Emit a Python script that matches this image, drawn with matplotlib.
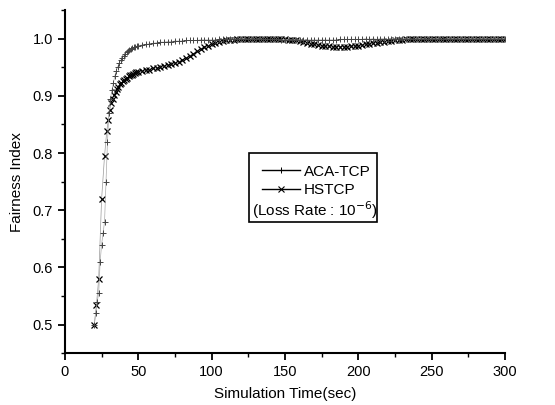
import numpy as np
import matplotlib
matplotlib.use('Agg')
import matplotlib.pyplot as plt
from matplotlib.lines import Line2D
from matplotlib.patches import Rectangle
from matplotlib.ticker import MultipleLocator, FormatStrFormatter

plt.rcParams['font.family'] = ['Liberation Sans', 'DejaVu Sans']

# ---- ACA-TCP: early samples (irregular), then a regular 2.5 s grid from 52.5 s
aca_t_early = [20, 21, 22, 23, 24, 25, 26, 27, 28, 29, 30, 31, 32, 33, 34, 35, 36, 37,
               38, 39, 40, 41, 42, 43, 44, 45, 46, 47, 48, 49, 50]
aca_v_early = [0.50, 0.52, 0.54, 0.555, 0.61, 0.64, 0.66, 0.68, 0.75, 0.82, 0.87, 0.895,
               0.91, 0.922, 0.935, 0.944, 0.951, 0.957, 0.962, 0.966, 0.970, 0.973,
               0.976, 0.978, 0.980, 0.982, 0.984, 0.985, 0.986, 0.987, 0.988]
aca_v_late = [0.989, 0.990, 0.991, 0.992, 0.993, 0.994, 0.994, 0.995, 0.995, 0.996,  # 52.5-75
              0.996, 0.996, 0.997, 0.997, 0.997, 0.997, 0.998, 0.998, 0.998, 0.998,  # 77.5-100
              0.998, 0.999, 0.999, 0.999, 0.999, 1.000, 0.999, 1.000, 1.000, 0.999,  # 102.5-125
              1.000, 0.999, 1.000, 0.999, 0.999, 0.999, 0.999, 0.999, 0.998, 0.998,  # 127.5-150
              0.998, 0.998, 0.998, 0.998, 0.998, 0.998, 0.998, 0.998, 0.998, 0.998,  # 152.5-175
              0.998, 0.998, 0.998, 0.998, 0.999, 0.999, 0.999, 0.999, 0.999, 0.999,  # 177.5-200
              0.999, 1.000, 0.999, 1.000, 0.999, 1.000, 1.000, 0.999, 1.000, 1.000,  # 202.5-225
              0.999, 1.000, 1.000, 1.000, 0.999, 1.000, 1.000, 1.000, 0.999, 1.000,  # 227.5-250
              1.000, 1.000, 0.999, 1.000, 1.000, 1.000, 1.000, 1.000, 1.000, 1.000,  # 252.5-275
              1.000, 1.000, 1.000, 1.000, 1.000, 1.000, 1.000, 1.000, 1.000, 1.000]  # 277.5-300

# ---- HSTCP: early samples (irregular), then the same 2.5 s grid
hs_t_early = [20, 21.5, 23, 25, 27, 28.5, 29.5, 30.5, 31.5, 32.5, 33.5, 34.5, 35.5,
              36.5, 37.5, 38.5, 39.5, 40.5, 41.5, 42.5, 43.5, 44.5, 45.5, 46.5, 47.5,
              48.5, 50]
hs_v_early = [0.50, 0.535, 0.58, 0.72, 0.795, 0.838, 0.857, 0.875, 0.887, 0.895, 0.902,
              0.907, 0.912, 0.916, 0.920, 0.923, 0.926, 0.928, 0.930, 0.932, 0.934,
              0.936, 0.937, 0.938, 0.940, 0.941, 0.942]
hs_v_late = [0.943, 0.945, 0.946, 0.948, 0.949, 0.951, 0.952, 0.954, 0.956, 0.958,  # 52.5-75
             0.960, 0.962, 0.966, 0.970, 0.974, 0.978, 0.982, 0.985, 0.988, 0.991,  # 77.5-100
             0.993, 0.995, 0.996, 0.997, 0.998, 0.998, 0.999, 0.999, 0.999, 0.999,  # 102.5-125
             1.000, 1.000, 1.000, 1.000, 0.999, 0.999, 0.999, 0.999, 0.999, 0.999,  # 127.5-150
             0.998, 0.998, 0.997, 0.996, 0.995, 0.993, 0.991, 0.990, 0.989, 0.988,  # 152.5-175
             0.987, 0.987, 0.986, 0.986, 0.986, 0.986, 0.986, 0.987, 0.987, 0.988,  # 177.5-200
             0.989, 0.990, 0.991, 0.992, 0.993, 0.994, 0.995, 0.996, 0.996, 0.997,  # 202.5-225
             0.998, 0.998, 0.999, 0.999, 0.999, 0.999, 0.999, 1.000, 0.999, 0.999,  # 227.5-250
             1.000, 1.000, 0.999, 1.000, 1.000, 1.000, 0.999, 1.000, 1.000, 1.000,  # 252.5-275
             1.000, 1.000, 1.000, 1.000, 1.000, 1.000, 1.000, 1.000, 1.000, 1.000]  # 277.5-300

late_t = list(np.arange(52.5, 300.1, 2.5))
aca_t = aca_t_early + late_t
aca_v = aca_v_early + aca_v_late
hs_t = hs_t_early + late_t
hs_v = hs_v_early + hs_v_late

fig = plt.figure(figsize=(5.55, 4.05), dpi=100)
ax = fig.add_axes([0.117, 0.128, 0.793, 0.847])

ax.plot(hs_t, hs_v, color='#999999', lw=0.5, marker='x', ms=4.5, mew=0.9,
        mec='black')
ax.plot(aca_t, aca_v, color='#aaaaaa', lw=0.5, marker='+', ms=4, mew=0.7,
        mec='#444444')

ax.set_xlim(0, 300)
ax.set_ylim(0.45, 1.05)
ax.xaxis.set_major_locator(MultipleLocator(50))
ax.xaxis.set_minor_locator(MultipleLocator(25))
ax.set_yticks([0.5, 0.6, 0.7, 0.8, 0.9, 1.0])
ax.yaxis.set_minor_locator(MultipleLocator(0.05))
ax.yaxis.set_major_formatter(FormatStrFormatter('%.1f'))

for s in ['top', 'right']:
    ax.spines[s].set_visible(False)
for s in ['left', 'bottom']:
    ax.spines[s].set_linewidth(1.5)
ax.tick_params(which='major', direction='out', length=5, width=1.3, labelsize=10.5)
ax.tick_params(which='minor', direction='out', length=3, width=1.0)

ax.set_xlabel('Simulation Time(sec)', fontsize=11, labelpad=6)
ax.set_ylabel('Fairness Index', fontsize=11, labelpad=6)

# legend box
fig.patches.append(Rectangle((249 / 555, 1 - 222 / 405), 128 / 555, 69 / 405,
                             transform=fig.transFigure, fill=False, lw=1.2,
                             edgecolor='black'))
handles = [Line2D([0], [0], color='black', lw=1.0, marker='+', ms=4, mew=0.7),
           Line2D([0], [0], color='black', lw=1.0, marker='x', ms=4, mew=0.8)]
fig.legend(handles, ['ACA-TCP', 'HSTCP'], loc='upper left',
           bbox_to_anchor=(251 / 555, 1 - 154 / 405), frameon=False, fontsize=11,
           handlelength=2.5, handletextpad=0.25, labelspacing=0.3, borderpad=0.2)
fig.text(252 / 555, 1 - 210 / 405, '(Loss Rate : 10$^{-6}$)', fontsize=11,
         va='center', ha='left')

fig.savefig('out.png', dpi=100)
